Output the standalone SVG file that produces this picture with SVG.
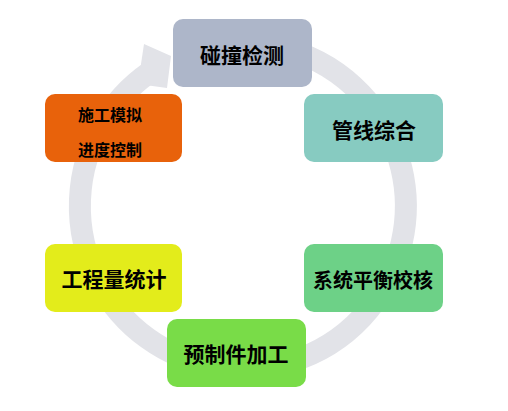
<svg xmlns="http://www.w3.org/2000/svg" width="508" height="411" viewBox="0 0 508 411">
<style>
.box{stroke:none}
.t{font-family:"Noto Sans CJK SC","Noto Sans",sans-serif;font-weight:700;fill:#000;text-anchor:middle;dominant-baseline:central}
.ring{fill:none;stroke:#e2e3e8;stroke-width:22}
</style>
<rect width="508" height="411" fill="#ffffff"/>
<g id="connectors">
<path class="ring" d="M 214.7 45.5 A 163 163 0 1 1 157.8 67"/>
<polygon points="144,44 171,56 167,88 138,84" fill="#e2e3e8"/>
</g>
<g id="n1"><rect class="box" x="173" y="19" width="139" height="68" rx="10" fill="#adb6c9"/><text class="t" x="242" y="54" font-size="21">碰撞检测</text></g>
<g id="n2"><rect class="box" x="304" y="94" width="139" height="68" rx="10" fill="#87cbc1"/><text class="t" x="374" y="129" font-size="21">管线综合</text></g>
<g id="n3"><rect class="box" x="304" y="244" width="139" height="68" rx="10" fill="#6dd187"/><text class="t" x="373" y="279" font-size="20">系统平衡校核</text></g>
<g id="n4"><rect class="box" x="167" y="319" width="139" height="68" rx="10" fill="#79dc48"/><text class="t" x="236" y="353" font-size="21">预制件加工</text></g>
<g id="n5"><rect class="box" x="45" y="244" width="137" height="68" rx="10" fill="#e3ec1b"/><text class="t" x="114" y="278" font-size="21">工程量统计</text></g>
<g id="n6"><rect class="box" x="45" y="94" width="137" height="68" rx="10" fill="#e8620b"/><text class="t" x="110" y="114" font-size="16">施工模拟</text><text class="t" x="110" y="149" font-size="16">进度控制</text></g>
</svg>
